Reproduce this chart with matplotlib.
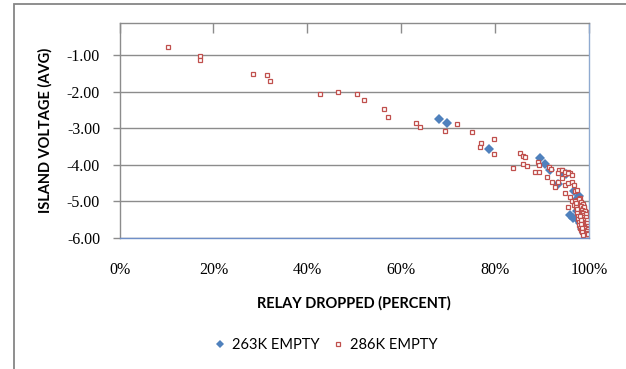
import matplotlib.pyplot as plt
from matplotlib.patches import Rectangle
from matplotlib.ticker import PercentFormatter, FormatStrFormatter

# relay dropped (fraction) / island voltage (avg)
empty_263k_x = [0.680, 0.698, 0.787, 0.895, 0.907, 0.917, 0.944, 0.950, 0.935,
                0.967, 0.960, 0.999, 0.997, 0.990, 0.965, 0.975, 0.980, 0.985,
                0.970, 0.976, 0.990, 0.995, 0.978, 0.985]
empty_263k_v = [-2.75, -2.87, -3.57, -3.81, -3.98, -4.14, -4.23, -4.24, -4.53,
                -4.73, -5.37, -5.45, -5.66, -5.86, -5.45, -5.25, -5.60, -5.75,
                -5.00, -5.50, -5.30, -5.50, -4.85, -5.10]

empty_286k_x = [0.103, 0.171, 0.171, 0.284, 0.314, 0.321, 0.427, 0.466, 0.506,
                0.520, 0.563, 0.571, 0.631, 0.639, 0.693, 0.719, 0.750, 0.770,
                0.767, 0.798, 0.798, 0.839, 0.853, 0.859, 0.864, 0.859, 0.869,
                0.886, 0.894, 0.891, 0.893, 0.910, 0.921, 0.928, 0.936, 0.943,
                0.915, 0.918, 0.960, 0.955, 0.948,
                0.935, 0.942, 0.949, 0.956, 0.963, 0.942, 0.935, 0.949, 0.956,
                0.963, 0.967, 0.949, 0.960, 0.970, 0.974, 0.963, 0.974, 0.981,
                0.956, 0.967,
                0.976, 0.983, 0.979, 0.986, 0.974, 0.981, 0.988, 0.977, 0.984,
                0.990, 0.979, 0.986, 0.992, 0.981, 0.988, 0.994, 0.983, 0.990,
                0.996, 0.985, 0.992, 0.997, 0.987, 0.993, 0.998, 0.989, 0.995,
                0.999, 0.991, 0.996, 0.993, 0.998, 0.978, 0.982, 0.987, 0.991,
                0.994, 0.975, 0.980, 0.985, 0.989, 0.992, 0.997, 0.995, 0.993,
                0.990, 0.987, 0.984, 0.981, 0.978, 0.986, 0.990, 0.994, 0.997,
                0.999, 0.999,
                0.977, 0.980, 0.983, 0.985, 0.988, 0.979, 0.982, 0.984, 0.987,
                0.989, 0.981, 0.983, 0.986, 0.988, 0.991, 0.982, 0.985, 0.987,
                0.990, 0.993, 0.984, 0.986, 0.989, 0.991, 0.994, 0.985, 0.988,
                0.990, 0.993, 0.995, 0.987, 0.989, 0.992, 0.994, 0.996, 0.988,
                0.991, 0.993, 0.995, 0.997, 0.990, 0.992, 0.994, 0.996, 0.998,
                0.992, 0.994, 0.996, 0.998, 0.994, 0.996, 0.998,
                0.971, 0.973, 0.972, 0.975, 0.974, 0.976, 0.977, 0.979, 0.978,
                0.980, 0.982, 0.981, 0.983, 0.984, 0.986, 0.985, 0.987]
empty_286k_v = [-0.77, -1.03, -1.13, -1.51, -1.55, -1.70, -2.07, -2.02, -2.08,
                -2.22, -2.48, -2.70, -2.85, -2.98, -3.07, -2.89, -3.10, -3.41,
                -3.51, -3.30, -3.70, -4.08, -3.69, -3.75, -3.80, -3.99, -4.04,
                -4.19, -4.19, -3.92, -4.00, -4.33, -4.48, -4.61, -4.14, -4.14,
                -4.05, -4.12, -4.23, -4.19, -4.25,
                -4.23, -4.14, -4.19, -4.23, -4.28, -4.37, -4.46, -4.55, -4.50,
                -4.46, -4.55, -4.78, -4.87, -4.73, -4.69, -5.00, -4.96, -4.91,
                -5.14, -5.10,
                -5.02, -5.05, -5.10, -5.12, -5.18, -5.20, -5.22, -5.27, -5.30,
                -5.32, -5.36, -5.38, -5.40, -5.44, -5.46, -5.48, -5.52, -5.54,
                -5.56, -5.60, -5.62, -5.64, -5.68, -5.70, -5.72, -5.76, -5.78,
                -5.80, -5.83, -5.85, -5.88, -5.87, -5.14, -5.34, -5.50, -5.66,
                -5.74, -5.08, -5.28, -5.42, -5.58, -5.80, -5.68, -5.58, -5.46,
                -5.36, -5.26, -5.16, -5.00, -4.94, -5.06, -5.18, -5.30, -5.42,
                -5.52, -5.62,
                -5.04, -5.07, -5.03, -5.09, -5.06, -5.15, -5.17, -5.13, -5.19,
                -5.15, -5.24, -5.26, -5.23, -5.28, -5.25, -5.33, -5.35, -5.32,
                -5.37, -5.34, -5.43, -5.45, -5.42, -5.47, -5.44, -5.51, -5.53,
                -5.50, -5.55, -5.52, -5.59, -5.61, -5.58, -5.63, -5.60, -5.67,
                -5.69, -5.66, -5.71, -5.68, -5.74, -5.77, -5.73, -5.79, -5.76,
                -5.82, -5.84, -5.81, -5.86, -5.89, -5.90, -5.88,
                -4.98, -5.05, -5.14, -5.21, -5.31, -5.39, -5.48, -5.57, -5.65,
                -5.72, -5.79, -5.40, -5.50, -5.62, -5.74, -5.84, -5.91]

y_ticks = [-1, -2, -3, -4, -5, -6]
x_ticks = [0, 0.2, 0.4, 0.6, 0.8, 1.0]

blue = '#4f81bd'
red = '#c0504d'
grid_gray = '#8c8c8c'

fig = plt.figure(figsize=(6.26, 3.69), dpi=100)
W, H = 626, 369

# chart frame (runs off the right and bottom edge)
fig.patches.append(Rectangle((14 / W, -0.1), 1.2, 1 - 4 / H + 0.1, transform=fig.transFigure,
                             fill=False, edgecolor='#868686', linewidth=1.3))

ax = fig.add_axes([119.5 / W, 1 - 238 / H, (589 - 119.5) / W, (238 - 22.7) / H])

ax.plot(empty_263k_x, empty_263k_v, linestyle='none', marker='D', markersize=5.2,
        color=blue, markeredgewidth=0, label='263K EMPTY')
ax.plot(empty_286k_x, empty_286k_v, linestyle='none', marker='s', markersize=3.2,
        markerfacecolor='white', markeredgecolor=red, markeredgewidth=0.9,
        label='286K EMPTY')

ax.set_xlim(0, 1)
ax.set_ylim(-6, -0.12)

ax.set_yticks(y_ticks)
ax.yaxis.set_major_formatter(FormatStrFormatter('%.2f'))
ax.set_xticks(x_ticks)
ax.xaxis.set_major_formatter(PercentFormatter(1.0, decimals=0))
ax.grid(axis='y', color=grid_gray, linewidth=1.0)
ax.set_axisbelow(True)

for lab in ax.get_yticklabels() + ax.get_xticklabels():
    lab.set_fontfamily('Liberation Serif')
    lab.set_fontsize(11.5)
ax.tick_params(axis='y', direction='out', length=5, width=1, color=grid_gray, pad=9)
# x axis crosses at the top, labels sit low
ax.tick_params(axis='x', direction='in', length=7, width=1, color=grid_gray,
               bottom=False, top=True, labelbottom=True, labeltop=False, pad=17)

ax.spines['left'].set_color(grid_gray)
ax.spines['top'].set_color(grid_gray)
ax.spines['right'].set_color('#8faad0')
ax.spines['bottom'].set_color('#6f8fc8')
for s in ax.spines.values():
    s.set_linewidth(1.0)

ax.set_ylabel('ISLAND VOLTAGE (AVG)', fontfamily='Lato', fontweight='bold', fontsize=10.5,
              labelpad=10)
ax.set_xlabel('RELAY DROPPED (PERCENT)', fontfamily='Lato', fontweight='bold', fontsize=10.5,
              labelpad=13)

leg = fig.legend(loc='center', bbox_to_anchor=(326 / W, 1 - 345 / H), ncol=2, frameon=False,
                 prop={'family': 'Lato', 'size': 10.5}, handlelength=0.8, handletextpad=0.4,
                 columnspacing=0.9, markerscale=0.7)

fig.savefig('out.png', dpi=100)
